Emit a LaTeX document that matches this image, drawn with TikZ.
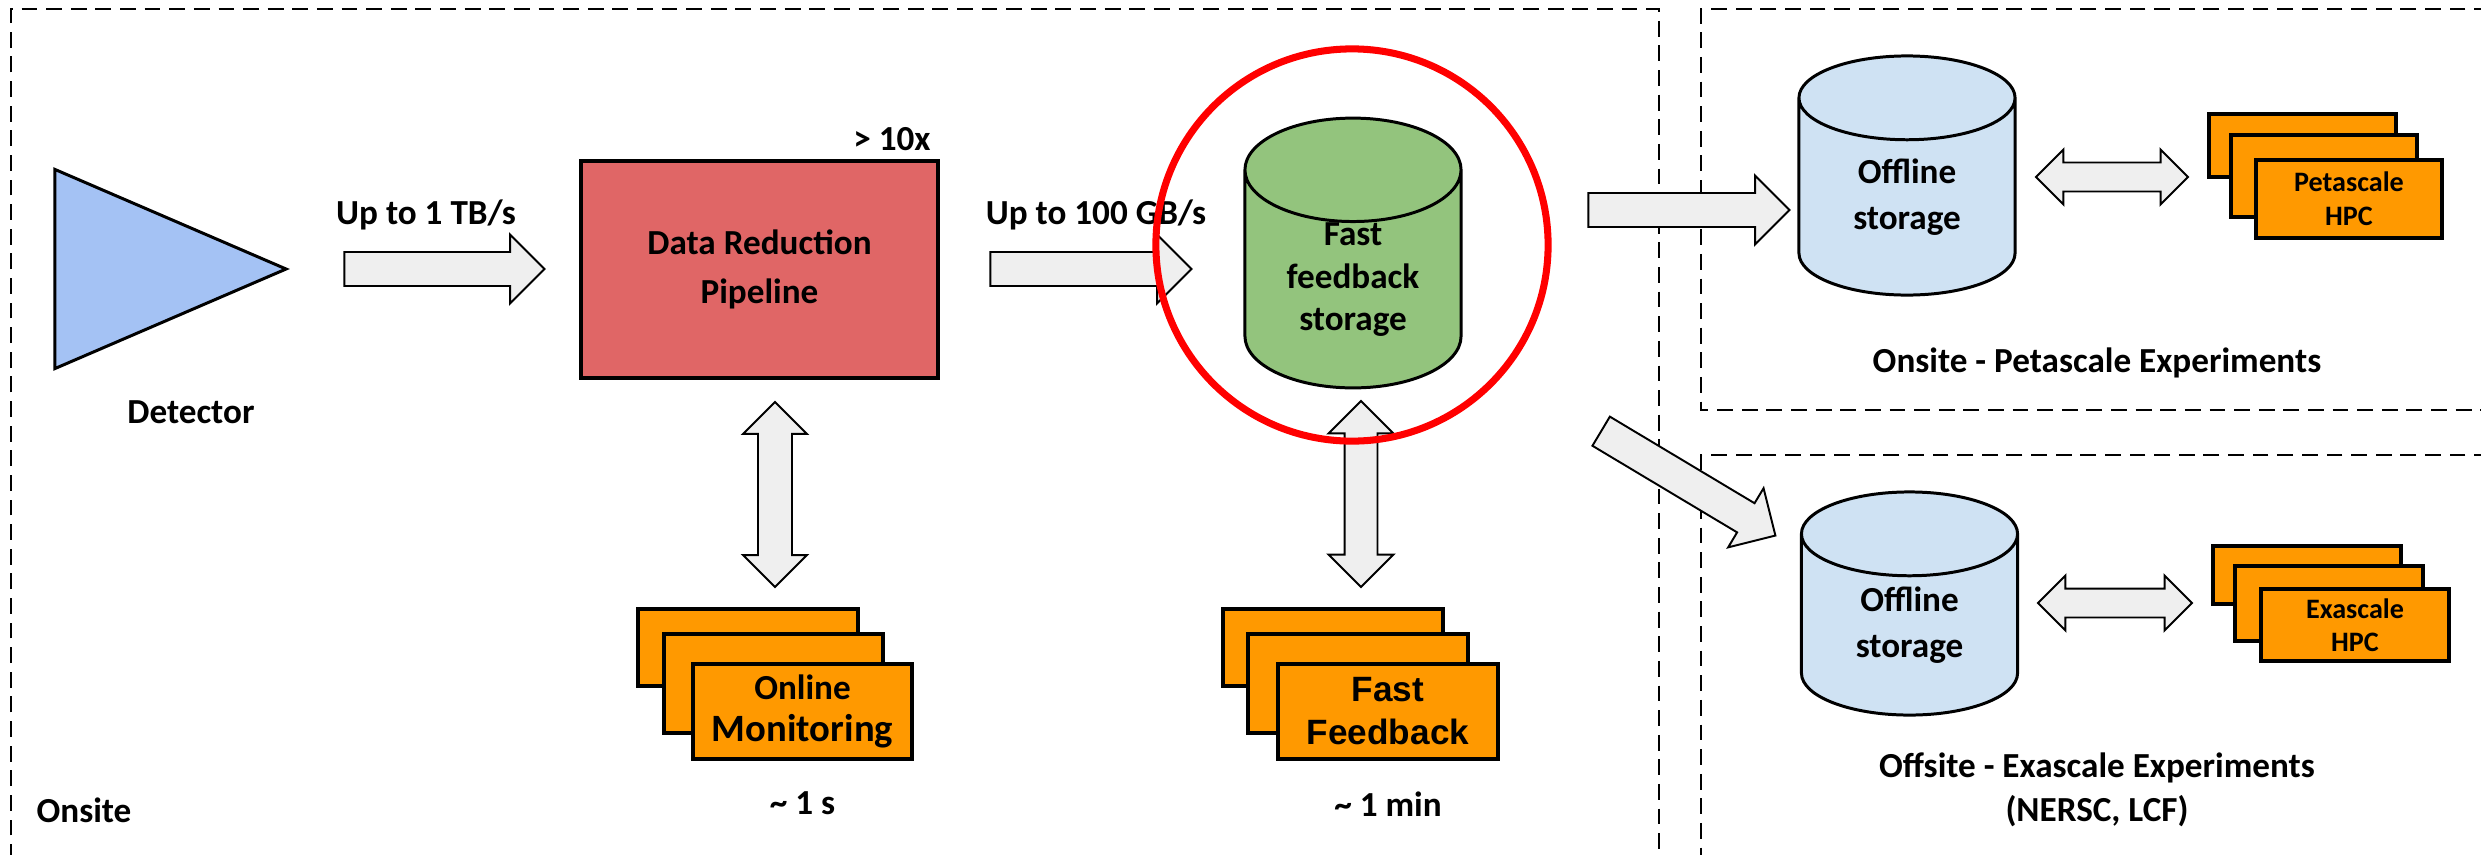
\documentclass[tikz,border=0pt]{standalone}
\usepackage{fontspec}
\setmainfont{Carlito}
\newfontfamily\arialfont{Liberation Sans}
\usetikzlibrary{positioning, shapes.geometric, shapes.arrows}

\definecolor{detblue}{HTML}{A4C2F4}
\definecolor{drpred}{HTML}{E06666}
\definecolor{ffgreen}{HTML}{93C47D}
\definecolor{offblue}{HTML}{CFE2F3}
\definecolor{hpcorange}{HTML}{FF9900}
\definecolor{fatgray}{HTML}{EFEFEF}

\begin{document}
\begin{tikzpicture}[x=0.01cm, y=-0.01cm, font=\bfseries\fontsize{10}{12}\selectfont,
  lbl/.style={inner sep=0pt, align=center},
  region/.style={draw, line width=0.6pt, dash pattern=on 4.5pt off 2.5pt},
  detector/.style={draw, line width=0.85pt, fill=detblue, isosceles triangle, isosceles triangle stretches, minimum width=1.99cm, minimum height=2.31cm, inner sep=0pt},
  stage/.style={draw, line width=1pt, fill=drpred, minimum width=3.57cm, minimum height=2.17cm, align=center},
  storage/.style={draw, line width=0.85pt, cylinder, shape border rotate=90, aspect=0.78, minimum width=2.16cm, align=center, inner sep=0pt, anchor=shape center},
  hpc/.style={draw, line width=0.9pt, fill=hpcorange, align=center, inner sep=0pt},
  fat/.style={draw, line width=0.55pt, fill=fatgray, single arrow, single arrow head extend=0.175cm, inner xsep=0pt, inner ysep=0.16cm, minimum width=0.67cm},
  fatboth/.style={draw, line width=0.55pt, fill=fatgray, double arrow, inner xsep=0pt}]

  \useasboundingbox (0,0) rectangle (2481,854);

  % dashed site regions
  \draw[region] (11,860) -- (11,9) -- (1659,9) -- (1659,860);
  \draw[region] (2490,9) -- (1701,9) -- (1701,410) -- (2490,410);
  \draw[region] (2490,455) -- (1701,455) -- (1701,860);

  \node[detector, anchor=apex] (det) at (290,269) {};
  \node[lbl] (detlbl) at (191,412) {Detector};

  \node[stage] (drp) at (759.5,269.5) {Data Reduction\\[2pt]Pipeline};
  \node[lbl] (gain) at (892,139) {> 10x};

  \node[storage, fill=ffgreen, minimum height=2.5cm] (ffs) at (1353,253) {Fast\\feedback\\storage};

  \node[storage, fill=offblue, minimum height=2.39cm, font=\bfseries\fontsize{10}{13}\selectfont] (off1) at (1907,175.5) {Offline\\storage};
  \node[storage, fill=offblue, minimum height=2.23cm, font=\bfseries\fontsize{10}{13}\selectfont] (off2) at (1909.5,603.5) {Offline\\storage};

  % online monitoring stack
  \node[hpc, minimum width=2.2cm, minimum height=0.77cm] (mon3) at (748,647.5) {};
  \node[hpc, minimum width=2.19cm, minimum height=0.99cm] (mon2) at (773.5,683.5) {};
  \node[hpc, minimum width=2.19cm, minimum height=0.95cm] (mon) at (802.5,711.5) {Online\\{\fontsize{11}{13}\selectfont Monitoring}};
  \node[lbl, below=0.3cm of mon] (monlbl) {\textasciitilde\ 1 s};

  % fast feedback stack
  \node[hpc, minimum width=2.2cm, minimum height=0.77cm] (fb3) at (1333,647.5) {};
  \node[hpc, minimum width=2.2cm, minimum height=0.99cm] (fb2) at (1358,683.5) {};
  \node[hpc, minimum width=2.2cm, minimum height=0.95cm, font=\arialfont\bfseries\fontsize{10}{12.2}\selectfont] (fb) at (1388,711.5) {Fast\\Feedback};
  \node[lbl, below=0.3cm of fb] (fblbl) {\textasciitilde\ 1 min};

  % petascale HPC stack
  \node[hpc, minimum width=1.87cm, minimum height=0.63cm] (peta3) at (2302.5,145.5) {};
  \node[hpc, minimum width=1.86cm, minimum height=0.82cm] (peta2) at (2324,176) {};
  \node[hpc, minimum width=1.86cm, minimum height=0.78cm, font=\bfseries\fontsize{8}{9.7}\selectfont] (peta) at (2349,199) {Petascale\\HPC};

  % exascale HPC stack
  \node[hpc, minimum width=1.88cm, minimum height=0.58cm] (exa3) at (2307,575) {};
  \node[hpc, minimum width=1.88cm, minimum height=0.75cm] (exa2) at (2329,603.5) {};
  \node[hpc, minimum width=1.88cm, minimum height=0.72cm, font=\bfseries\fontsize{8}{9.5}\selectfont] (exa) at (2355,625) {Exascale\\HPC};

  \node[lbl] (onlbl) at (84,810) {Onsite};
  \node[lbl] (petalbl) at (2097,363) {Onsite - Petascale Experiments};
  \node[lbl, font=\bfseries\fontsize{10}{12.5}\selectfont] (exalbl) at (2097,790) {Offsite - Exascale Experiments\\(NERSC, LCF)};

  % block arrows between the stages
  \node[fat, minimum height=2cm] (a1) at (436,269) {};
  \node[lbl] (rate1) at (426,215) {Up to 1 TB/s};
  \node[fat, minimum height=2.01cm] (a2) at (1082.5,269) {};
  \node[lbl] (rate2) at (1096,215) {Up to 100 GB/s};
  \node[fat, minimum height=2.01cm] (a3) at (1680.5,210) {};
  \node[fat, minimum height=2.03cm, rotate=-30.9] (a4) at (1681,479) {};

  \node[fatboth, minimum height=1.85cm, minimum width=0.62cm, inner ysep=0.16cm, double arrow head extend=0.15cm, rotate=90] (a5) at (775,494.5) {};
  \node[fatboth, minimum height=1.86cm, minimum width=0.63cm, inner ysep=0.155cm, double arrow head extend=0.16cm, rotate=90] (a6) at (1361,494) {};
  \node[fatboth, minimum height=1.52cm, minimum width=0.53cm, inner ysep=0.135cm, double arrow head extend=0.13cm] (a7) at (2112,177) {};
  \node[fatboth, minimum height=1.54cm, minimum width=0.53cm, inner ysep=0.135cm, double arrow head extend=0.13cm] (a8) at (2115,603) {};

  % highlight ring
  \node[draw=red, line width=2pt, circle, minimum size=3.92cm, inner sep=0pt] (ring) at (1352,245) {};
\end{tikzpicture}
\end{document}
